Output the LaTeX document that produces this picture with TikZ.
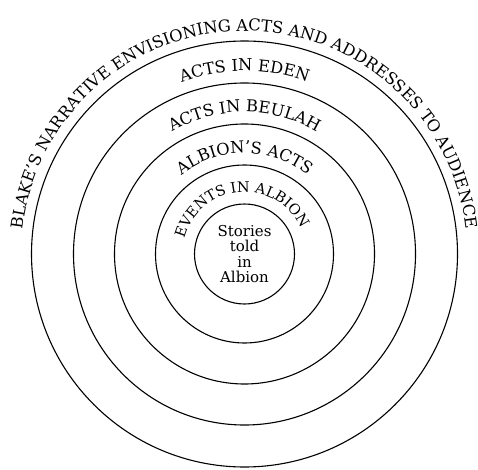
\documentclass[tikz,border=0pt]{standalone}
\usepackage{fontspec}
\setmainfont{DejaVu Serif}
\usetikzlibrary{decorations.text}
\newcommand\arcfont{\fontsize{16.3}{16}\selectfont}
\newcommand\innerarcfont{\fontsize{14.5}{14}\selectfont}
\begin{document}
\begin{tikzpicture}[x=1pt,y=1pt,
  ring/.style={circle, draw, line width=1.1pt, inner sep=0pt},
  arctext/.style={decorate, decoration={text along path, text align=center, text={#1}}}]
\useasboundingbox (0,0) rectangle (478,469);
\coordinate (O) at (244.5,215);
\node[ring, minimum size=100pt, align=center, font=\fontsize{15}{15.5}\selectfont] (c1) at (O) {Stories\\told\\in\\Albion};
\node[ring, minimum size=178pt] (c2) at (O) {};
\node[ring, minimum size=260pt] (c3) at (O) {};
\node[ring, minimum size=342pt] (c4) at (O) {};
\node[ring, minimum size=426pt] (c5) at (O) {};
\path[arctext={|\innerarcfont|EVENTS IN ALBION}] ([shift={(185:62)}]O) arc[start angle=185, end angle=5, radius=62];
\path[arctext={|\arcfont|ALBION'S ACTS}] ([shift={(175:101)}]O) arc[start angle=175, end angle=5, radius=101];
\path[arctext={|\arcfont|ACTS IN BEULAH}] ([shift={(175:142)}]O) arc[start angle=175, end angle=5, radius=142];
\path[arctext={|\arcfont|ACTS IN EDEN}] ([shift={(175:183)}]O) arc[start angle=175, end angle=5, radius=183];
\path[arctext={|\arcfont|BLAKE'S NARRATIVE ENVISIONING ACTS AND ADDRESSES TO AUDIENCE}] ([shift={(182:223)}]O) arc[start angle=182, end angle=-2, radius=223];
\end{tikzpicture}
\end{document}
